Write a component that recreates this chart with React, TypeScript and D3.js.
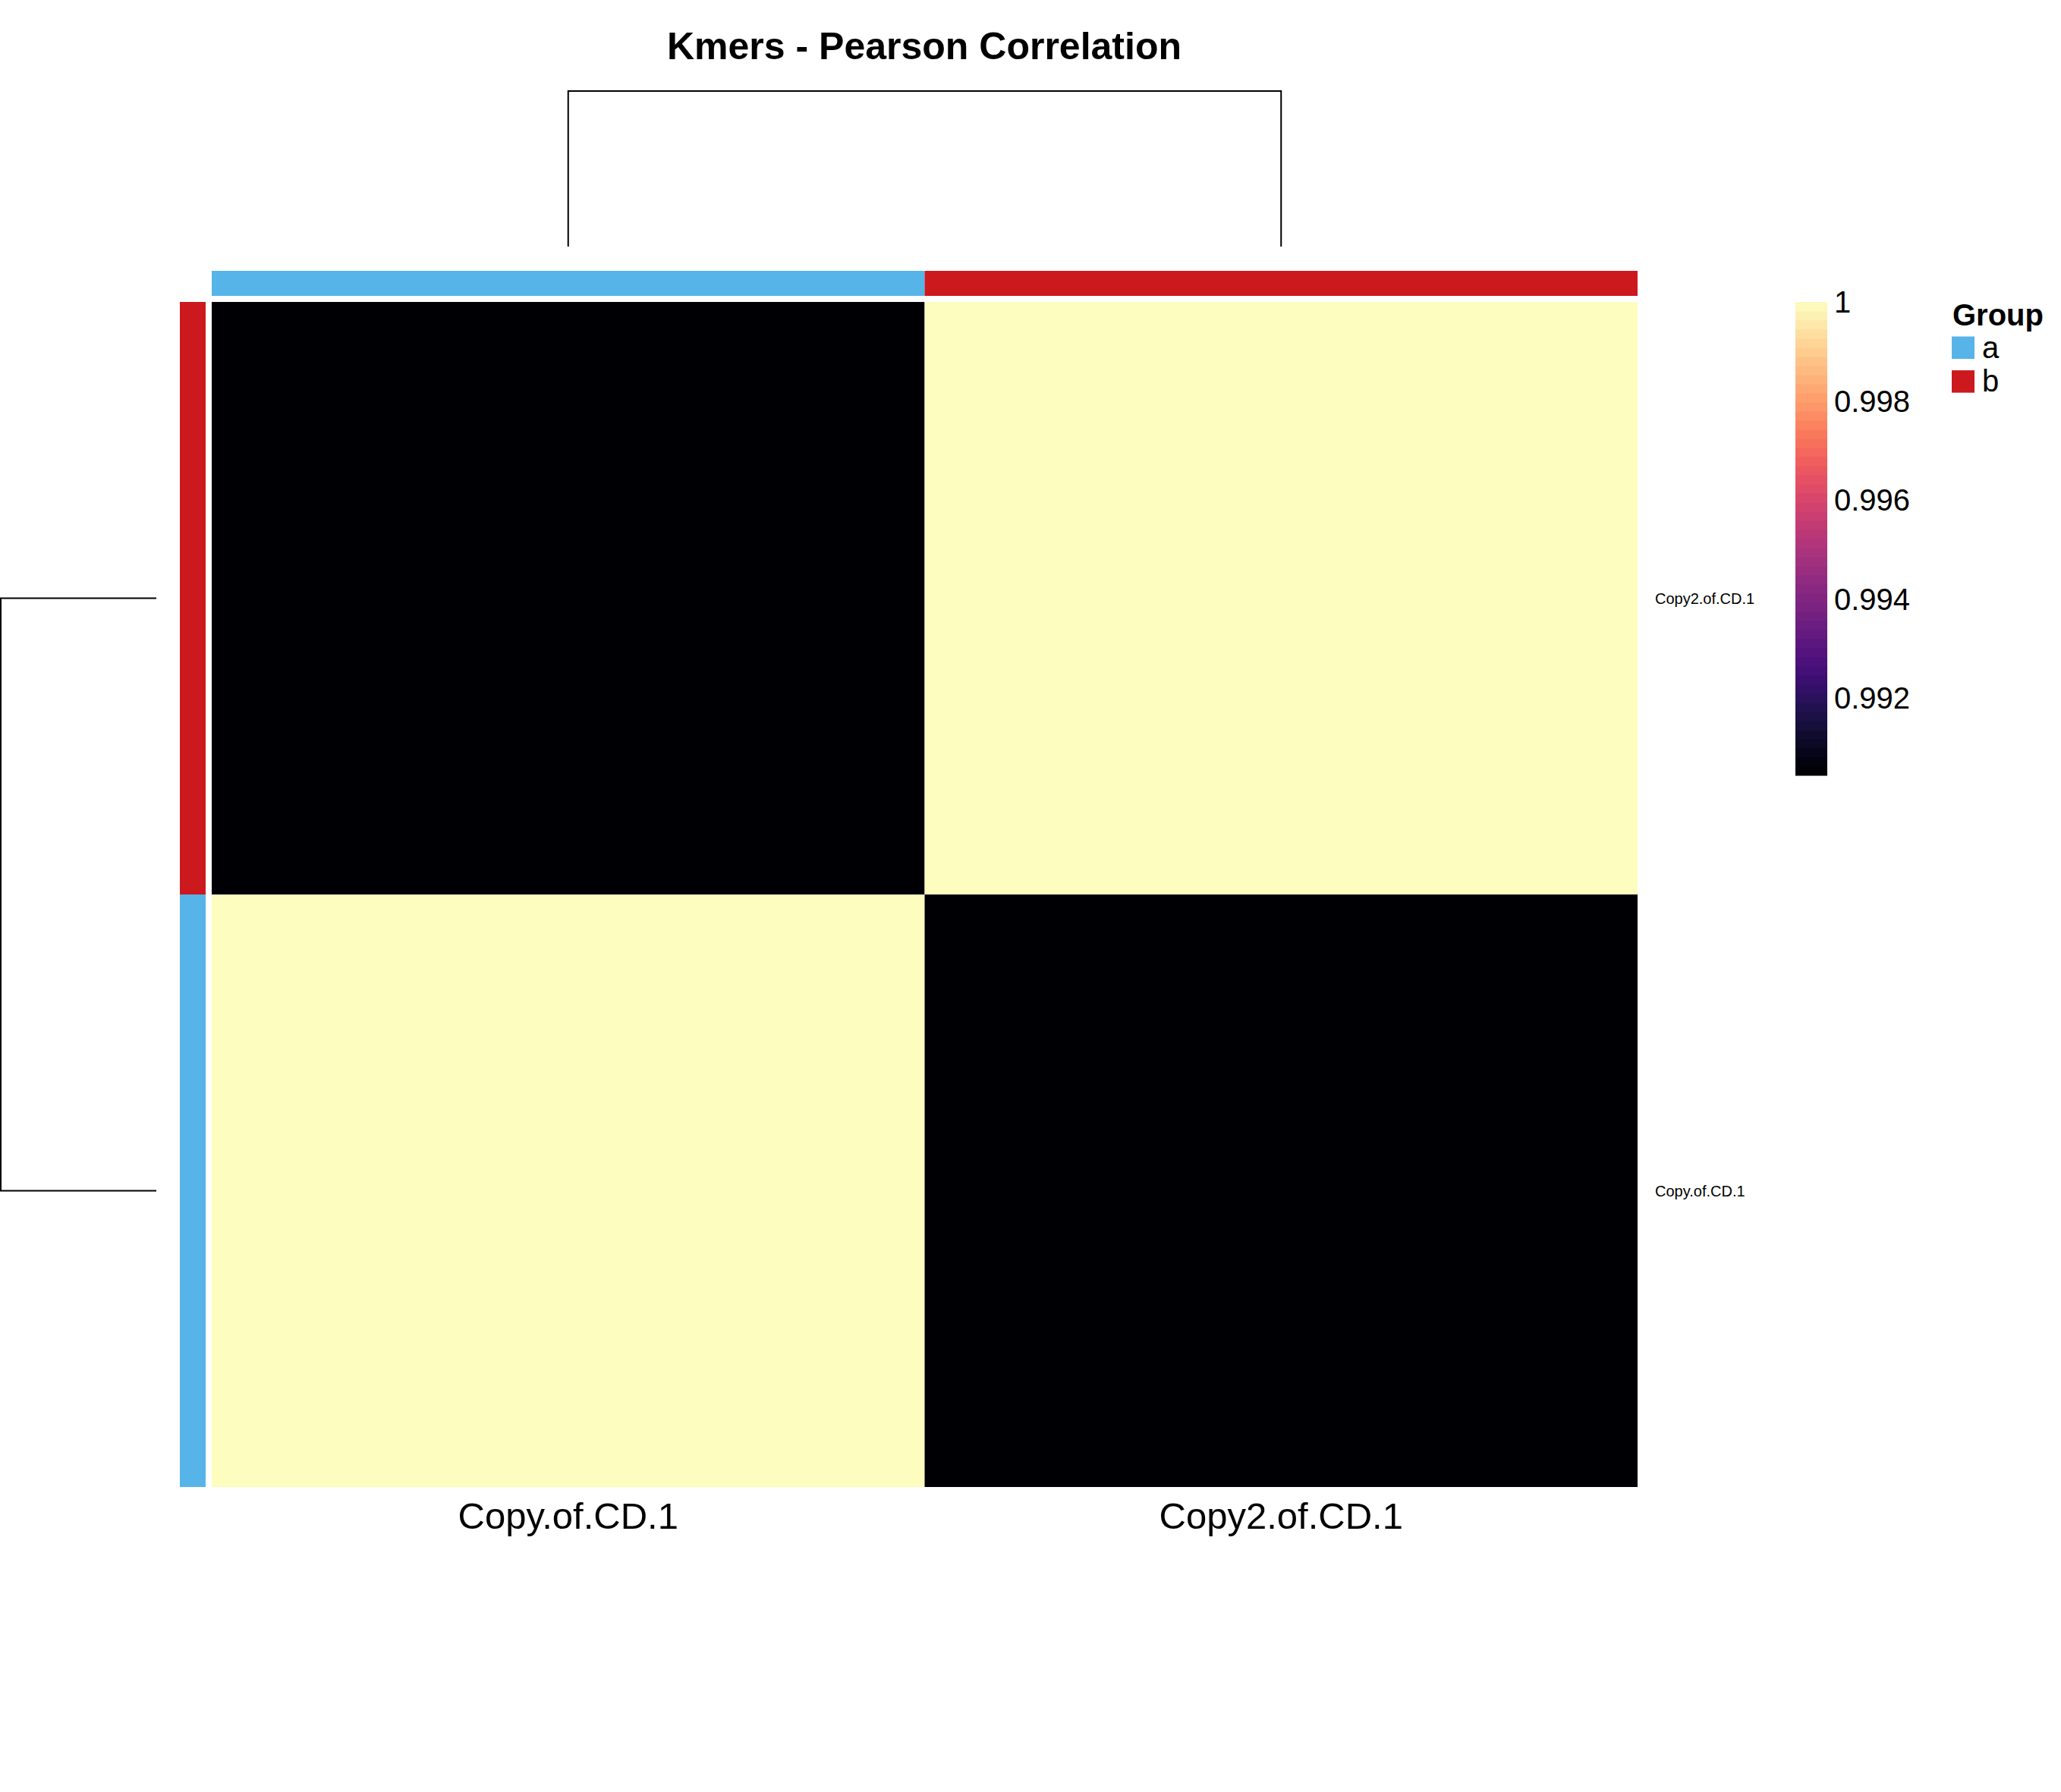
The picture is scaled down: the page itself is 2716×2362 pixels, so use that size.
import * as d3 from 'd3'

// samples, top-to-bottom for rows and left-to-right for columns
const rowNames = ['Copy2.of.CD.1', 'Copy.of.CD.1']
const colNames = ['Copy.of.CD.1', 'Copy2.of.CD.1']
const groupOf: Record<string, string> = { 'Copy.of.CD.1': 'a', 'Copy2.of.CD.1': 'b' }
const groupNames = ['a', 'b']
const groupColors = ['#56B4E9', '#CB191E']

// correlation matrix (rows x cols)
const corrValues = [
  [0.99043, 1],
  [1, 0.99043],
]
const mergeHeight = 0.00957
const legendTicks = [1, 0.998, 0.996, 0.994, 0.992]

const W = 2716
const H = 2362
const font = '"Liberation Sans", Arial, Helvetica, sans-serif'

export default function App() {
  // heatmap body
  const x = d3.scaleBand().domain(colNames).range([279, 2158])
  const y = d3.scaleBand().domain(rowNames).range([398, 1960])
  const minVal = d3.min(corrValues.flat()) as number
  const maxVal = d3.max(corrValues.flat()) as number
  const color = d3.scaleSequential(d3.interpolateMagma).domain([minVal, maxVal])
  const groupColor = d3.scaleOrdinal<string, string>().domain(groupNames).range(groupColors)

  // dendrogram heights
  const topH = d3.scaleLinear().domain([0, mergeHeight]).range([325, 120])
  const leftH = d3.scaleLinear().domain([0, mergeHeight]).range([206, 1])

  // colour bar
  const barY = d3.scaleLinear().domain([minVal, maxVal]).range([1022, 398])
  const steps = 52
  const stepVals = d3.range(steps).map(i => minVal + (i / steps) * (maxVal - minVal))
  const stepH = 624 / steps

  const cx = (c: string) => (x(c) as number) + x.bandwidth() / 2
  const cy = (r: string) => (y(r) as number) + y.bandwidth() / 2

  return (
    <svg width={W} height={H} style={{ position: 'absolute', left: 0, top: 0, background: '#fff' }} fontFamily={font}>
      <rect width={W} height={H} fill="#fff" />
      <text x={1218} y={78} textAnchor="middle" fontSize={50} fontWeight="bold">Kmers - Pearson Correlation</text>

      {/* column dendrogram */}
      <path
        d={`M${cx(colNames[0])},${topH(0)}V${topH(mergeHeight)}H${cx(colNames[1])}V${topH(0)}`}
        fill="none" stroke="#000" strokeWidth={2}
      />
      {/* row dendrogram */}
      <path
        d={`M${leftH(0)},${cy(rowNames[0])}H${leftH(mergeHeight)}V${cy(rowNames[1])}H${leftH(0)}`}
        fill="none" stroke="#000" strokeWidth={2}
      />

      {/* top annotation */}
      {colNames.map(c => (
        <rect key={'ta' + c} x={x(c)} y={357} width={x.bandwidth()} height={33} fill={groupColor(groupOf[c])} />
      ))}
      {/* left annotation */}
      {rowNames.map(r => (
        <rect key={'la' + r} x={237} y={y(r)} width={34} height={y.bandwidth()} fill={groupColor(groupOf[r])} />
      ))}

      {/* cells */}
      {rowNames.map((r, i) => colNames.map((c, j) => (
        <rect key={r + c} x={x(c)} y={y(r)} width={x.bandwidth()} height={y.bandwidth()} fill={color(corrValues[i][j])} />
      )))}

      {/* row labels */}
      {rowNames.map(r => (
        <text key={'rl' + r} x={2181} y={cy(r)} dy="0.35em" fontSize={20}>{r}</text>
      ))}
      {/* column labels */}
      {colNames.map(c => (
        <text key={'cl' + c} x={cx(c)} y={2015} textAnchor="middle" fontSize={49}>{c}</text>
      ))}

      {/* colour legend */}
      {stepVals.map((v, i) => (
        <rect key={'cb' + i} x={2366} y={1022 - (i + 1) * stepH} width={42} height={stepH + 0.5} fill={color(v + (maxVal - minVal) / steps / 2)} />
      ))}
      {legendTicks.map(t => (
        <text key={'lt' + t} x={2417} y={barY(t)} dy="0.36em" fontSize={40}>{String(t)}</text>
      ))}

      {/* group legend */}
      <text x={2573} y={429} fontSize={40} fontWeight="bold">Group</text>
      {groupNames.map((g, i) => (
        <g key={'gl' + g} transform={`translate(2572,${443.5 + i * 44.6})`}>
          <rect width={30} height={29.5} fill={groupColor(g)} />
          <text x={40} y={28} fontSize={40}>{g}</text>
        </g>
      ))}
    </svg>
  )
}
